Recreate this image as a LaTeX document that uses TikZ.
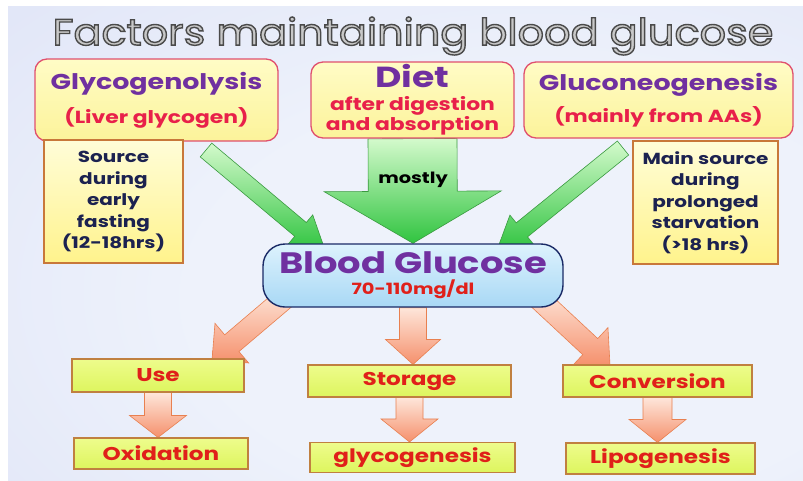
\documentclass[tikz,border=0pt]{standalone}
\usepackage{fontspec}
\setmainfont{Poppins}[FakeStretch=1.25]
\newfontfamily\titlefont{Poppins}[FakeStretch=1.12]
\usetikzlibrary{calc}

\definecolor{bgmid}{HTML}{EEF2FB}
\definecolor{bglav}{HTML}{DEE3F7}
\definecolor{bgblue}{HTML}{BCD3F2}
\definecolor{bgdeep}{HTML}{98BFEE}
\definecolor{headtop}{HTML}{FFFCC6}
\definecolor{headbot}{HTML}{FCF39A}
\definecolor{headedge}{HTML}{E0506E}
\definecolor{purp}{HTML}{7030A0}
\definecolor{crim}{HTML}{E8204A}
\definecolor{notetop}{HTML}{FFFDD8}
\definecolor{notebot}{HTML}{FFF38C}
\definecolor{noteedge}{HTML}{C8783A}
\definecolor{navytext}{HTML}{1C2250}
\definecolor{bloodtop}{HTML}{DDF2FD}
\definecolor{bloodbot}{HTML}{A8D8F5}
\definecolor{bloodedge}{HTML}{1A2A66}
\definecolor{limetop}{HTML}{EEFC8C}
\definecolor{limebot}{HTML}{DDF55E}
\definecolor{limeedge}{HTML}{C08040}
\definecolor{redtext}{HTML}{E0201A}
\definecolor{grtop}{HTML}{D4FACC}
\definecolor{grbot}{HTML}{30C440}
\definecolor{gredge}{HTML}{3A9A40}
\definecolor{ortop}{HTML}{FEE6DA}
\definecolor{orbot}{HTML}{F5906C}
\definecolor{oredge}{HTML}{E88050}
\definecolor{titlefill}{HTML}{C8C8C8}

\pgfdeclarelayer{back}
\pgfdeclarelayer{arrows}
\pgfsetlayers{back,arrows,main}
\pgfdeclareradialshading{slidebg}{\pgfpoint{12bp}{-8bp}}{color(0bp)=(bgmid); color(22bp)=(bgmid); color(48bp)=(bglav); color(64bp)=(bgblue); color(80bp)=(bgdeep)}

% outlined title letters (fill + stroke)
\newcommand{\outlined}[1]{\special{pdf:literal direct 2 Tr 1.4 w 0.29 0.29 0.29 RG}#1\special{pdf:literal direct 0 Tr}}

% block arrow: [style]{from}{to}{shaft half width}{head half width}{head length}
\newcommand{\fatarrow}[6][]{%
  \coordinate (fa-neck) at ($(#3)!#6!(#2)$);
  \path[#1] ($(#2)!#4!90:(#3)$) -- ($(fa-neck)!#4!90:(#3)$) -- ($(fa-neck)!#5!90:(#3)$)
    -- (#3) -- ($(fa-neck)!#5!-90:(#3)$) -- ($(fa-neck)!#4!-90:(#3)$)
    -- ($(#2)!#4!-90:(#3)$) -- cycle;}

\begin{document}
\begin{tikzpicture}[x=1pt, y=-1pt,
  headbox/.style={draw=headedge, line width=1.3pt, rounded corners=12pt, top color=headtop, bottom color=headbot, align=center, inner sep=0pt, font=\fontsize{17.5}{20}\selectfont\bfseries},
  notebox/.style={draw=noteedge, line width=1.1pt, top color=notetop, bottom color=notebot, align=center, text=navytext, inner sep=0pt, font=\fontsize{16}{21.5}\selectfont\bfseries},
  limebox/.style={draw=limeedge, line width=1.1pt, top color=limetop, bottom color=limebot, text=redtext, inner sep=0pt, font=\fontsize{18.5}{21}\selectfont\bfseries},
  greenarr/.style={draw=gredge, line width=0.6pt, top color=grtop, bottom color=grbot},
  orangearr/.style={draw=oredge, line width=0.6pt, top color=ortop, bottom color=orbot}
]
  \useasboundingbox (0,0) rectangle (803,480);
  \begin{pgfonlayer}{back}
    \fill[white] (0,0) rectangle (803,480);
    \shade[shading=slidebg] (8,6) rectangle (803,480);
  \end{pgfonlayer}

  % Title
  \node[text=titlefill] (title) at (413,36) {\titlefont\fontsize{37}{40}\selectfont\outlined{Factors maintaining blood glucose}};

  % Sources of glucose
  \node[headbox, minimum width=243pt, minimum height=82pt] (glyco) at (156.5,100)
    {\textcolor{purp}{\fontsize{21.5}{24}\selectfont Glycogenolysis}\\[11pt]\textcolor{crim}{(Liver glycogen)}};
  \node[headbox, minimum width=203pt, minimum height=76pt] (diet) at (412.5,100)
    {\textcolor{purp}{\fontsize{29}{30}\selectfont Diet}\\[3pt]\textcolor{crim}{after digestion}\\\textcolor{crim}{and absorption}};
  \node[headbox, minimum width=269pt, minimum height=76pt] (gluco) at (658.5,100)
    {\textcolor{purp}{\fontsize{21.5}{24}\selectfont Gluconeogenesis}\\[9pt]\textcolor{crim}{(mainly from AAs)}};

  \node[notebox, minimum width=139pt, minimum height=123pt] (early) at (113.5,201.5)
    {Source\\during\\early\\fasting\\(12-18hrs)};
  \node[notebox, minimum width=145pt, minimum height=123pt] (late) at (705.5,202.5)
    {Main source\\during\\prolonged\\starvation\\(>18 hrs)};

  % Blood glucose
  \node[draw=bloodedge, line width=1.4pt, rounded corners=22pt, top color=bloodtop, bottom color=bloodbot,
    minimum width=300pt, minimum height=63pt, align=center, inner sep=0pt] (blood) at (413,275.5)
    {\textcolor{purp}{\fontsize{29.5}{31}\selectfont\bfseries Blood Glucose}\\[5pt]\textcolor{redtext}{\fontsize{15.5}{17}\selectfont\bfseries 70-110mg/dl}};

  % Fates
  \node[limebox, minimum width=172pt, minimum height=33pt] (use) at (158,375.5) {Use};
  \node[limebox, minimum width=174pt, minimum height=31pt] (oxid) at (161,453.5) {Oxidation};
  \node[limebox, minimum width=203pt, minimum height=32pt] (storage) at (409.5,381) {Storage};
  \node[limebox, minimum width=205pt, minimum height=30pt] (glycogen) at (412.5,457.5) {glycogenesis};
  \node[limebox, minimum width=189pt, minimum height=32pt] (conv) at (657.5,381) {Conversion};
  \node[limebox, minimum width=189pt, minimum height=31pt] (lipo) at (660.5,458.5) {Lipogenesis};

  \node[font=\fontsize{15.5}{18}\selectfont\bfseries] (mostly) at (413,180) {mostly};

  \coordinate (gly-tail) at (206,150);
  \coordinate (gly-tip) at (325,250);
  \coordinate (gluc-tail) at (623,148);
  \coordinate (gluc-tip) at (497,250);
  \coordinate (use-tail) at (285,298);
  \coordinate (use-tip) at (212,360);
  \coordinate (conv-tail) at (538,298);
  \coordinate (conv-tip) at (610,365);
  \coordinate (stor-tip) at (blood.south |- storage.north);
  \coordinate (ox-tip) at (use.south |- oxid.north);
  \coordinate (gen-tip) at (storage.south |- glycogen.north);
  \coordinate (lipo-tip) at (conv.south |- lipo.north);

  \begin{pgfonlayer}{arrows}
    % into the blood
    \fatarrow[greenarr]{gly-tail}{gly-tip}{9pt}{19pt}{32pt}
    \fatarrow[greenarr]{diet.south}{blood.north}{44.5pt}{88.5pt}{52pt}
    \fatarrow[greenarr]{gluc-tail}{gluc-tip}{9pt}{19pt}{32pt}
    % out of the blood
    \fatarrow[orangearr]{use-tail}{use-tip}{11pt}{26pt}{26pt}
    \fatarrow[orangearr]{blood.south}{stor-tip}{13.5pt}{27.5pt}{25pt}
    \fatarrow[orangearr]{conv-tail}{conv-tip}{11pt}{26pt}{27pt}
    \fatarrow[orangearr]{use.south}{ox-tip}{13.5pt}{28.5pt}{22pt}
    \fatarrow[orangearr]{storage.south}{gen-tip}{13.5pt}{28.5pt}{23pt}
    \fatarrow[orangearr]{conv.south}{lipo-tip}{14.5pt}{28.5pt}{23pt}
  \end{pgfonlayer}
\end{tikzpicture}
\end{document}
